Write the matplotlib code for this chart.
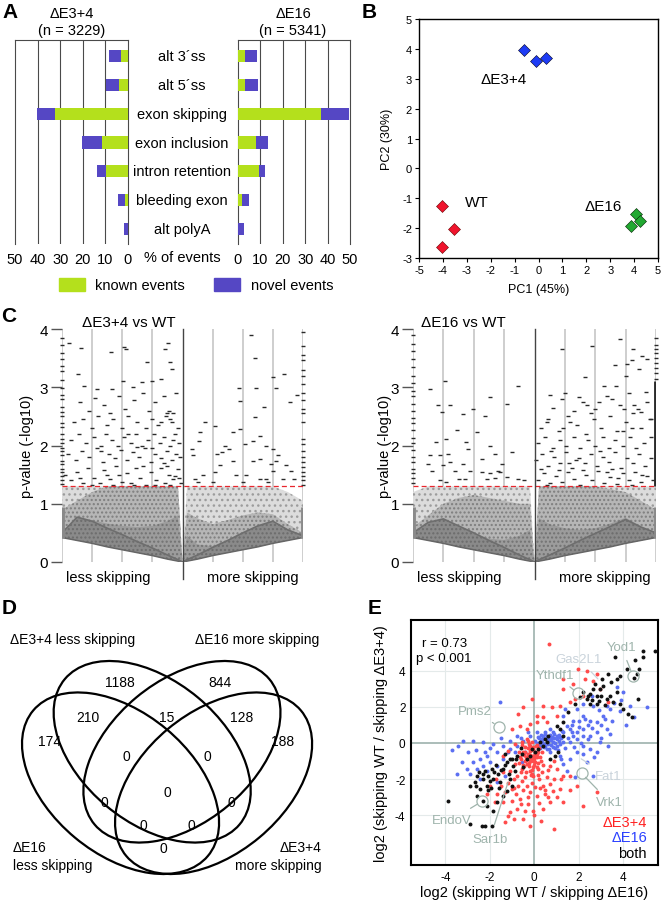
import matplotlib
matplotlib.use('Agg')
import matplotlib.pyplot as plt
import matplotlib.transforms as mtrans
from matplotlib.patches import Ellipse, Patch
import numpy as np

plt.rcParams['font.family'] = ['Liberation Sans', 'DejaVu Sans']
plt.rcParams['axes.unicode_minus'] = False
plt.rcParams['hatch.linewidth'] = 1.0

W, H = 661, 904
fig = plt.figure(figsize=(W / 100, H / 100), dpi=100)


def axpx(l, t, r, b):
    return fig.add_axes([l / W, 1 - b / H, (r - l) / W, (b - t) / H])


def ftext(x, y, s, **kw):
    kw.setdefault('ha', 'center')
    kw.setdefault('va', 'center')
    return fig.text(x / W, 1 - y / H, s, **kw)

# ---------------- DATA ----------------
# Panel A
categories = ['alt 3´ss', 'alt 5´ss', 'exon skipping', 'exon inclusion',
              'intron retention', 'bleeding exon', 'alt polyA']
e34_known = [3.1, 4.0, 32.2, 11.4, 9.9, 1.5, 0.0]
e34_novel = [5.5, 5.8, 8.2, 8.9, 3.9, 2.9, 1.9]
e16_known = [3.0, 3.0, 37.0, 7.9, 9.3, 1.8, 0.0]
e16_novel = [5.5, 6.1, 12.7, 5.7, 2.8, 3.0, 2.7]
pct_ticks = [0, 10, 20, 30, 40, 50]

# Panel B
wt_pc1 = [-4.05, -3.52, -4.05]
wt_pc2 = [-1.26, -2.04, -2.62]
e34_pc1 = [-0.61, -0.10, 0.30]
e34_pc2 = [3.97, 3.60, 3.71]
e16_pc1 = [4.06, 4.26, 3.87]
e16_pc2 = [-1.54, -1.77, -1.94]

# Panel C  (x: skipping change, y: -log10 p)
p_threshold = 0.05
v34_sig = [(-3.78, 3.76), (-3.36, 3.67), (-3.48, 3.23), (-3.28, 3.02), (-2.36, 3.61), (-1.94, 3.69),
           (-1.87, 3.66), (-1.19, 3.43), (-0.57, 3.65), (-0.47, 3.76), (-0.42, 3.43), (-0.34, 3.31),
           (-0.72, 3.14), (-1.02, 3.11), (-1.96, 3.11), (-2.84, 2.97), (-1.36, 3.09), (-1.63, 3.0),
           (-2.35, 2.97),
           (-3.4, 2.75), (-3.1, 2.6), (-2.9, 2.82), (-2.6, 2.7), (-2.4, 2.55), (-2.1, 2.85), (-1.9, 2.62),
           (-1.6, 2.78), (-1.3, 2.9), (-1.1, 2.6), (-0.9, 2.75), (-0.6, 2.85), (-0.45, 2.6), (-0.3, 2.55),
           (-0.2, 2.9),
           (-3.6, 2.4), (-3.3, 2.45), (-3.0, 2.3), (-2.8, 2.5), (-2.5, 2.35), (-2.3, 2.45), (-2.0, 2.3),
           (-1.8, 2.5), (-1.5, 2.4), (-1.2, 2.3), (-1.0, 2.45), (-0.8, 2.35), (-0.55, 2.5), (-0.35, 2.4),
           (-0.15, 2.3), (-0.5, 2.55), (-0.42, 2.45),
           (-3.7, 2.1), (-3.45, 2.2), (-3.2, 2.05), (-2.95, 2.15), (-2.7, 2.0), (-2.55, 2.2), (-2.35, 2.1),
           (-2.15, 2.0), (-1.95, 2.15), (-1.7, 2.05), (-1.55, 2.2), (-1.35, 2.0), (-1.15, 2.1), (-0.95, 2.2),
           (-0.75, 2.05), (-0.6, 2.15), (-0.4, 2.0), (-0.25, 2.2), (-0.1, 2.05),
           (-3.8, 1.85), (-3.55, 1.75), (-3.35, 1.9), (-3.1, 1.8), (-2.85, 1.95), (-2.65, 1.72), (-2.45, 1.85),
           (-2.25, 1.78), (-2.05, 1.92), (-1.85, 1.75), (-1.65, 1.88), (-1.45, 1.8), (-1.25, 1.95),
           (-1.05, 1.72), (-0.9, 1.85), (-0.7, 1.78), (-0.5, 1.9), (-0.35, 1.75), (-0.2, 1.85), (-0.08, 1.8),
           (-1.5, 1.97), (-2.7, 1.9),
           (-3.9, 1.5), (-3.7, 1.4), (-3.5, 1.55), (-3.3, 1.35), (-3.15, 1.62), (-2.95, 1.45), (-2.75, 1.35),
           (-2.6, 1.58), (-2.4, 1.42), (-2.2, 1.65), (-2.0, 1.38), (-1.85, 1.52), (-1.7, 1.35), (-1.55, 1.62),
           (-1.4, 1.45), (-1.2, 1.33), (-1.05, 1.55), (-0.88, 1.4), (-0.72, 1.62), (-0.58, 1.36), (-0.45, 1.5),
           (-0.3, 1.42), (-0.15, 1.6), (-0.05, 1.35), (-3.0, 1.32), (-2.3, 1.32), (-1.6, 1.32), (-0.9, 1.32),
           (-0.4, 1.32), (-0.25, 1.48), (-0.62, 1.7), (-1.0, 1.95), (-1.8, 2.2), (-2.5, 1.5), (-3.4, 1.45),
           (-0.3, 2.1), (-0.7, 2.4), (-1.3, 1.65), (-2.1, 1.5), (-0.12, 1.45), (-0.5, 1.65),
           (2.28, 3.9), (2.42, 3.51), (1.87, 2.98), (2.45, 2.98), (3.0, 3.17), (3.09, 2.98), (3.38, 3.23),
           (3.8, 2.86), (2.4, 2.49), (2.72, 2.66), (1.9, 2.77), (3.58, 2.74), (0.76, 2.4), (1.07, 2.34),
           (0.57, 2.23), (1.92, 2.29), (1.67, 2.23), (1.4, 2.0), (0.55, 2.07), (0.3, 1.94), (0.35, 1.83),
           (1.15, 1.86), (1.32, 1.89), (1.56, 1.94), (2.06, 2.03), (2.34, 2.07), (2.56, 2.17), (2.78, 2.0),
           (3.0, 1.94), (3.17, 1.83), (3.44, 1.66), (3.6, 1.57), (3.0, 1.57), (2.78, 1.43), (2.56, 1.43),
           (2.12, 1.49), (1.79, 1.49), (1.07, 1.54), (0.68, 1.49), (0.41, 1.43), (1.23, 1.66), (1.67, 1.74),
           (2.34, 1.74), (2.56, 1.77), (3.1, 1.74), (2.94, 1.69), (0.52, 1.37), (1.01, 1.37), (3.33, 1.43),
           (3.71, 1.43), (2.0, 1.37), (2.83, 1.37)]
v16_sig = [(-3.45, 2.97), (-2.95, 3.11), (-3.17, 2.69), (-2.77, 2.7), (-3.03, 2.57), (-2.35, 2.54),
           (-2.04, 2.63), (-1.46, 2.83), (-1.63, 2.51), (-0.53, 3.03), (-0.91, 2.71), (-3.23, 2.06),
           (-2.9, 2.11), (-2.56, 2.26), (-3.45, 1.83), (-3.12, 1.83), (-2.84, 1.86), (-2.78, 1.71),
           (-3.0, 1.66), (-3.5, 1.69), (-3.39, 1.57), (-2.62, 1.57), (-2.24, 2.06), (-2.18, 1.94),
           (-1.9, 2.23), (-1.74, 1.77), (-1.46, 2.0), (-1.3, 1.86), (-1.19, 1.57), (-1.13, 1.54),
           (-1.08, 1.69), (-1.74, 1.54), (-1.57, 1.43), (-0.91, 1.46), (-0.75, 1.89), (-0.53, 1.43),
           (-0.36, 1.4), (-2.5, 1.43), (-2.28, 1.43), (-2.9, 1.37), (-2.13, 1.57), (-2.35, 1.69),
           (-3.1, 1.4), (-1.45, 1.52), (-1.3, 1.45),
           (0.9, 3.66), (1.9, 3.71), (2.83, 3.82), (3.25, 3.66), (3.55, 3.54), (3.22, 3.46), (3.03, 3.4),
           (2.64, 3.39), (3.43, 3.31), (3.71, 3.49), (1.67, 3.17), (2.3, 3.03), (2.67, 3.03), (3.0, 3.2),
           (0.9, 2.8), (1.45, 2.83), (1.73, 2.69), (2.12, 2.74), (2.56, 2.8), (2.95, 2.63), (3.27, 2.69),
           (3.5, 2.57), (3.66, 2.91), (3.82, 2.46), (0.52, 2.86), (1.18, 2.4), (0.41, 2.4),
           (0.6, 2.65), (1.0, 2.9), (1.3, 2.6), (1.6, 2.75), (2.0, 2.62), (2.4, 2.85), (2.8, 2.7), (3.1, 2.9),
           (3.4, 2.62), (3.7, 2.75),
           (0.2, 2.3), (0.45, 2.45), (0.8, 2.25), (1.1, 2.5), (1.4, 2.35), (1.7, 2.2), (1.95, 2.45), (2.2, 2.3),
           (2.5, 2.5), (2.7, 2.25), (3.0, 2.4), (3.25, 2.55), (3.5, 2.3), (3.8, 2.45), (2.9, 2.25),
           (0.1, 2.05), (0.35, 2.15), (0.6, 1.95), (0.85, 2.1), (1.05, 2.0), (1.3, 2.15), (1.5, 1.95),
           (1.75, 2.1), (2.0, 2.0), (2.25, 2.15), (2.45, 1.95), (2.65, 2.1), (2.9, 2.0), (3.15, 2.15),
           (3.35, 1.95), (3.6, 2.05), (3.85, 2.15),
           (0.05, 1.75), (0.25, 1.85), (0.45, 1.65), (0.65, 1.8), (0.85, 1.7), (1.05, 1.88), (1.25, 1.62),
           (1.45, 1.78), (1.65, 1.7), (1.85, 1.85), (2.05, 1.65), (2.25, 1.8), (2.45, 1.72), (2.65, 1.88),
           (2.85, 1.62), (3.05, 1.78), (3.25, 1.7), (3.45, 1.85), (3.65, 1.65), (3.85, 1.78), (1.15, 1.7),
           (2.55, 1.6),
           (0.1, 1.4), (0.3, 1.52), (0.5, 1.35), (0.7, 1.48), (0.9, 1.38), (1.1, 1.55), (1.3, 1.42), (1.5, 1.33),
           (1.7, 1.5), (1.9, 1.4), (2.1, 1.57), (2.3, 1.36), (2.5, 1.46), (2.7, 1.34), (2.9, 1.52), (3.1, 1.4),
           (3.3, 1.55), (3.5, 1.37), (3.7, 1.48), (3.9, 1.4), (0.8, 1.58), (1.6, 1.58), (2.4, 1.55),
           (3.2, 1.32), (0.4, 1.32), (0.2, 1.6), (0.55, 1.9), (1.35, 1.75), (2.15, 1.9), (2.75, 1.45),
           (3.55, 1.5), (0.95, 2.3), (1.85, 2.55), (3.2, 2.3)]
# stacked extreme values at the plot edges (x = -4 / +4)
v34_edge_lo = [1.34, 1.41, 1.47, 1.55, 1.6, 1.69, 1.74, 1.83, 1.9, 1.96, 2.05, 2.12, 2.19, 2.31, 2.38,
               2.5, 2.57, 2.66, 2.79, 2.86, 2.98, 3.12, 3.28, 3.36, 3.49, 3.58, 3.72, 3.85]
v34_edge_hi = [1.33, 1.4, 1.48, 1.55, 1.63, 1.71, 1.8, 1.9, 2.02, 2.11, 2.4, 2.55, 2.62, 2.78, 2.9,
               3.06, 3.2, 3.3, 3.46, 3.55, 3.7, 3.95]
v16_edge_lo = [1.35, 1.44, 1.52, 1.6, 1.72, 1.81, 1.93, 2.04, 2.13, 2.26, 2.38, 2.47, 2.6, 2.72, 2.85,
               2.93, 3.08, 3.2, 3.35, 3.48, 3.62, 3.75, 3.9]
v16_edge_hi = [3.15, 3.24, 3.33, 3.42, 3.5, 3.58, 3.66, 3.72, 3.85]
edge_grey_band = {'v34_lo': (0.42, 0.95), 'v34_hi': (0.42, 0.95), 'v16_lo': (0.42, 0.95), 'v16_hi': (0.42, 0.95)}
edge_dark_band = {'v16_hi': (1.3, 3.1)}

# density envelopes of the non-significant (grey) cloud
cloud_x_neg = [-4, -3.5, -3, -2.5, -2, -1.5, -1, -0.5, -0.15, 0]
cloud_x_pos = [0, 0.15, 0.5, 1, 1.5, 2, 2.5, 3, 3.5, 4]
cloud_low_neg = [0.42, 0.37, 0.32, 0.26, 0.21, 0.16, 0.11, 0.05, 0.015, 0]
cloud_low_pos = [0, 0.015, 0.05, 0.11, 0.16, 0.21, 0.26, 0.32, 0.37, 0.42]
v34_neg = dict(streak=[0.5, 0.77, 0.7, 0.58, 0.47, 0.35, 0.24, 0.12, 0.04, 0],
               dense=[0.5, 0.77, 0.72, 0.66, 0.62, 0.6, 0.62, 0.7, 0.8, 0],
               mid=[0.9, 1.05, 1.2, 1.3, 1.3, 1.3, 1.3, 1.3, 1.3, 0],
               light=[1.3, 1.3, 1.3, 1.3, 1.3, 1.3, 1.3, 1.3, 1.3, 0])
v34_pos = dict(streak=[0, 0.04, 0.12, 0.25, 0.37, 0.5, 0.62, 0.7, 0.55, 0.45],
               dense=[0, 0.45, 0.3, 0.27, 0.37, 0.5, 0.62, 0.7, 0.55, 0.45],
               mid=[0, 0.85, 0.75, 0.65, 0.72, 0.8, 0.85, 0.82, 0.65, 0.5],
               light=[0, 1.3, 1.3, 1.3, 1.3, 1.3, 1.3, 1.3, 1.2, 1.05])
v16_neg = dict(streak=[0.5, 0.68, 0.74, 0.62, 0.5, 0.37, 0.25, 0.12, 0.04, 0],
               dense=[0.5, 0.68, 0.74, 0.62, 0.5, 0.4, 0.38, 0.45, 0.55, 0],
               mid=[0.6, 0.8, 1.0, 1.1, 1.15, 1.1, 1.05, 1.0, 1.0, 0],
               light=[1.2, 1.3, 1.3, 1.3, 1.3, 1.3, 1.3, 1.3, 1.3, 0])
v16_pos = dict(streak=[0, 0.04, 0.12, 0.24, 0.37, 0.49, 0.61, 0.73, 0.6, 0.5],
               dense=[0, 0.75, 0.65, 0.58, 0.55, 0.58, 0.66, 0.76, 0.62, 0.5],
               mid=[0, 1.3, 1.3, 1.3, 1.3, 1.3, 1.25, 1.2, 1.05, 0.9],
               light=[0, 1.3, 1.3, 1.3, 1.3, 1.3, 1.3, 1.3, 1.3, 1.3])

# Panel D (Venn counts)
venn_sets = ['ΔE3+4 less skipping', 'ΔE16 more skipping', 'ΔE16\nless skipping', 'ΔE3+4\nmore skipping']
venn_counts = {'A': 1188, 'B': 844, 'C': 174, 'D': 188, 'AC': 210, 'AB': 15, 'BD': 128,
               'AD': 0, 'BC': 0, 'ABCD': 0, 'ACD': 0, 'BCD': 0, 'ABC': 0, 'ABD': 0, 'CD': 0}

# Panel E
e_both = [(5.42, 5.07), (4.9, 5.1), (3.63, 4.74), (4.52, 4.59), (4.9, 4.74), (4.6, 3.82), (4.15, 4.09),
          (3.85, 3.72), (3.7, 3.54), (3.43, 3.35), (3.1, 3.17), (2.95, 2.99), (2.8, 2.62), (2.65, 2.99),
          (2.5, 2.71), (2.35, 2.43), (2.2, 2.8), (2.5, 2.16), (2.8, 2.16), (3.25, 2.43), (3.55, 2.25),
          (3.85, 2.16), (4.0, 1.88), (4.37, 1.42), (4.22, 1.6), (4.67, 2.43), (3.7, 2.8), (3.03, 3.54),
          (3.33, 3.82), (2.73, 3.26), (2.05, 2.53), (1.83, 2.16), (1.53, 1.7), (1.3, 1.14), (1.15, 0.77),
          (1.0, 0.96), (1.3, 0.41), (0.63, 0.41), (0.55, 0.04), (0.4, -0.15), (0.18, -0.33), (0.7, -0.88),
          (0.93, -0.7), (1.08, -0.52), (-0.19, -0.7), (-0.34, -0.88), (-0.57, -0.61), (-0.79, -0.7),
          (-1.02, -0.88), (-0.94, -1.25), (-1.24, -1.07), (-1.39, -1.44), (-1.62, -1.71), (-1.84, -1.99),
          (-2.07, -1.81), (-2.29, -1.99), (-2.14, -2.36), (-2.44, -2.54), (-2.59, -2.91), (-2.29, -3.19),
          (-2.14, -3.47), (-1.84, -3.74), (-1.69, -3.28), (-1.24, -2.64), (-1.39, -2.91), (-1.02, -2.36),
          (-1.09, -1.99), (-1.54, -2.18), (-1.92, -1.44), (-2.22, -1.53), (-2.59, -1.81), (-2.89, -2.36),
          (-2.67, -2.18), (-3.87, -3.23), (-2.89, -4.48), (-2.37, -4.61), (-1.92, -4.61), (-2.22, -4.61),
          (-0.87, -1.53), (-0.49, -1.35), (0.03, -0.52), (-0.12, -0.33), (0.25, 0.04), (0.48, 0.22),
          (-1.7, -1.2), (-1.3, -0.6), (-0.6, -0.3), (-1.95, -2.5), (-2.5, -1.6), (-1.15, -1.7),
          (-1.5, -1.5), (-1.8, -1.6), (-2.0, -2.1), (-2.3, -1.7), (-2.6, -2.4), (-2.1, -2.6), (-1.6, -2.5),
          (-1.3, -1.2), (-1.1, -0.9), (-0.8, -0.9), (2.6, 2.4), (2.9, 2.3), (3.2, 2.1), (3.0, 2.6),
          (2.4, 2.6), (3.4, 2.6), (4.5, 3.6), (4.7, 4.1)]
e_e16 = [(-1.54, 2.25), (1.3, 1.51), (1.9, 1.88), (2.2, 1.51), (2.5, 1.24), (2.8, 1.14), (3.1, 1.51),
         (3.4, 1.88), (3.85, 1.79), (4.3, 2.06), (5.05, 1.97), (4.48, 1.42), (4.0, 2.8), (3.7, 3.08),
         (3.25, 2.06), (2.65, 2.06), (2.2, 2.16), (1.75, 1.24), (1.6, 0.77), (1.9, 0.59), (2.2, 0.77),
         (2.5, 0.41), (2.8, 0.59), (3.25, 0.77), (2.95, 0.04), (2.5, -0.33), (2.2, -0.15), (1.9, -0.52),
         (1.6, -0.88), (1.3, -1.16), (1.45, -1.53), (2.35, -1.07), (2.65, -1.81), (1.83, -1.9),
         (1.15, 0.31), (0.85, 0.59), (0.7, 0.31), (1.0, -0.15), (1.3, 0.04), (1.6, 0.04), (1.9, 0.22),
         (0.55, -0.33), (0.25, -0.15), (0.4, 0.41), (0.1, 0.59), (-0.19, 0.41), (-0.49, 0.13),
         (-0.79, -0.15), (-1.09, -0.33), (-1.39, -0.15), (-1.69, -0.52), (-2.14, -0.7), (-2.44, -0.88),
         (-2.74, -1.07), (-3.04, -1.44), (-3.42, -0.15), (-3.27, -1.07), (-3.49, -1.71), (-3.19, 0.13),
         (-2.74, 0.13), (-2.29, 0.04), (-1.84, -0.06), (-1.09, 0.13), (-0.79, 0.41), (-1.39, -0.88),
         (-1.69, -1.25), (-1.99, -1.07), (-2.29, -1.25), (-2.59, -1.44), (-2.89, -1.71), (-2.44, -1.99),
         (-2.14, -1.53), (-1.69, -2.18), (-1.32, -1.81), (-0.87, -0.52), (-0.57, -1.07), (0.7, 0.77),
         (1.45, 0.96), (1.75, 0.41), (2.2, 0.41), (1.15, -0.7), (0.7, -0.52), (2.8, -0.52), (3.33, -0.15),
         (-0.19, -0.15), (0.03, 0.13), (0.1, -0.06), (0.33, 0.04), (0.48, -0.15), (0.63, 0.13),
         (0.85, 0.04), (0.18, 0.31), (0.48, 0.59), (1.0, 0.41), (1.23, 0.68), (0.35, 0.2), (0.6, -0.05),
         (0.75, 0.15), (0.9, 0.25), (0.45, -0.05), (0.28, 0.1), (0.55, 0.35), (0.95, -0.3), (1.1, 0.1),
         (2.0, 1.2), (2.4, 1.0), (2.9, 1.8), (3.5, 1.2), (4.1, 1.0), (3.0, 0.3), (1.4, 1.9), (2.6, 2.6),
         (3.9, 2.4), (-0.4, -0.5), (-0.6, 0.3), (-1.2, -0.5), (-2.0, -0.3), (-3.0, -0.5),
         (0.3, 0.45), (0.5, 0.5), (0.7, 0.45), (0.9, 0.5), (1.1, 0.45), (0.2, 0.25), (0.4, 0.3), (0.6, 0.2),
         (0.8, 0.35), (1.0, 0.2), (1.2, 0.3), (0.15, 0.0), (0.35, -0.1), (0.55, 0.05), (0.75, -0.1),
         (0.95, 0.0), (1.15, -0.05), (0.25, -0.3), (0.45, -0.25), (0.65, -0.35), (0.85, -0.2), (1.05, -0.4),
         (1.3, 0.6), (1.5, 0.3), (1.7, 0.6), (1.4, -0.3), (1.8, -0.2), (2.1, 0.0), (2.4, 0.2), (2.0, 0.9),
         (2.3, 1.3), (1.7, 1.0), (2.6, 0.8), (3.0, 1.0), (3.4, 0.5), (2.7, -0.8), (2.2, -0.6), (1.2, -0.9),
         (3.6, 2.2), (3.2, 1.3), (-2.6, -0.4), (-1.5, 0.3), (-2.2, -0.5), (-3.7, -0.4), (-0.3, 0.6)]
e_e34 = [(0.66, 5.47), (1.98, 4.09), (2.35, 4.0), (1.3, 3.54), (1.3, 2.99), (1.75, 3.26), (2.28, 3.54),
         (2.65, 3.45), (2.95, 2.99), (2.8, 3.82), (1.83, 2.43), (2.2, 2.62), (1.15, 2.06), (0.78, 1.97),
         (0.4, 2.06), (-0.12, 2.43), (-0.49, 1.97), (-0.72, 1.6), (0.1, 1.51), (-0.19, 1.05), (-0.34, 0.77),
         (-0.64, 0.96), (-1.02, 0.77), (0.1, 1.14), (0.55, 1.14), (0.4, 1.42), (1.0, 1.51), (1.6, 2.25),
         (3.33, 2.25),
         (-0.49, -0.52), (-0.27, -0.79), (-0.04, -0.98), (-0.34, -1.16), (-0.57, -1.44), (-0.19, -1.53),
         (0.1, -1.35), (0.25, -0.79), (0.03, -0.61), (-0.19, -0.42), (-0.64, -0.79), (-0.87, -1.16),
         (-1.09, -1.53), (-0.79, -1.81), (-0.42, -1.9), (-0.04, -1.81), (0.33, -1.62), (0.55, -1.9),
         (0.7, -2.27), (0.4, -2.36), (0.03, -2.45), (-0.34, -2.36), (-0.72, -2.36), (-1.02, -2.54),
         (-1.32, -2.73), (-1.69, -2.82), (-1.39, -3.28), (-1.02, -3.19), (-0.64, -3.1), (-0.27, -3.0),
         (0.1, -2.91), (0.48, -2.82), (0.85, -2.64), (1.15, -2.54), (1.3, -3.28), (0.7, -3.28),
         (0.4, -3.65), (-0.04, -3.74), (-0.42, -3.74), (-0.79, -3.65), (-1.09, -3.83), (-1.32, -4.39),
         (-0.49, -4.2), (0.88, -4.76), (2.2, -3.47), (2.8, -2.73), (1.9, -2.36), (1.6, -1.81), (1.3, -1.81),
         (1.0, -1.44), (0.7, -1.25), (-1.99, -2.36), (-2.14, -2.82), (-1.77, -3.28), (-1.17, -4.02),
         (-0.04, -0.33), (-0.19, -0.15), (-0.42, -0.24), (0.18, -0.52), (-0.12, 0.04), (-0.34, 0.22),
         (-0.57, 0.04), (-0.87, -0.06), (-1.17, -0.42), (-1.39, -0.7),
         (-0.3, -0.6), (-0.1, -0.7), (0.1, -0.8), (-0.2, -1.0), (0.0, -1.2), (-0.4, -1.0), (-0.15, -0.4),
         (0.05, -0.5), (-0.5, -1.2), (-0.25, -1.3), (0.15, -1.1), (-0.1, -1.5), (0.2, -0.3), (-0.35, -0.8),
         (0.0, -0.9), (-0.6, -0.9), (-0.05, -0.2), (-0.25, -0.05), (0.08, -0.15), (-0.45, -0.65),
         (-0.7, -1.1), (0.3, -1.0), (-0.15, -1.75), (0.2, -2.0), (-0.55, -2.1), (-0.9, -2.0), (0.5, -2.6),
         (-0.1, -2.2), (-1.2, -2.2), (0.6, -1.5), (0.9, -2.0), (-0.8, -2.8), (-0.3, -3.4), (0.2, -3.3),
         (-0.3, -0.3), (-0.1, -0.35), (0.1, -0.6), (-0.4, -0.5), (-0.2, -0.65), (0.0, -0.75), (-0.35, -0.95),
         (-0.15, -0.85), (0.05, -1.05), (-0.45, -1.3), (-0.25, -1.1), (-0.05, -1.35), (0.15, -1.45),
         (-0.6, -1.6), (-0.35, -1.6), (-0.1, -1.7), (0.15, -1.75), (0.4, -1.2), (0.35, -0.5), (-0.7, -0.5),
         (-0.55, -0.1), (-0.3, 0.1), (0.1, -0.1), (-0.5, -2.6), (-0.2, -2.7), (0.25, -2.5), (0.6, -3.0),
         (-0.9, -2.5), (-1.5, -2.4), (-0.6, -3.4), (0.0, -4.0), (-0.9, -4.2), (1.0, -3.0), (0.3, -4.3),
         (-0.2, -4.6), (1.6, -2.6), (1.2, -2.0), (0.9, -1.0), (-1.7, -2.0), (-1.4, -1.6)]
e_genes = ['Pms2', 'Ythdf1', 'Gas2L1', 'Yod1', 'Fat1', 'Vrk1', 'EndoV', 'Sar1b']
e_gene_x = [-1.6, 1.96, 2.86, 4.43, 2.11, 2.13, -2.35, -1.18]
e_gene_y = [0.9, 2.75, 3.54, 3.72, -0.88, -1.68, -3.23, -2.18]
e_gene_circled = [True, True, False, True, False, True, True, False]
r_value, p_text = 0.73, 'p < 0.001'

# ---------------- PANEL A ----------------
known_c = '#b4e01c'
novel_c = '#5547c4'
rows = np.arange(len(categories))
axA = []
for (l, r, known, novel, xl) in [(15, 128, e34_known, e34_novel, (50, 0)),
                                 (238, 350, e16_known, e16_novel, (0, 50))]:
    ax = axpx(l, 41, r, 245)
    ax.barh(rows, known, height=0.42, color=known_c, zorder=3)
    ax.barh(rows, novel, left=known, height=0.42, color=novel_c, zorder=3)
    ax.set_xlim(*xl)
    ax.set_ylim(6.52, -0.555)
    for g in pct_ticks[1:-1]:
        ax.axvline(g, color='#4a4a4a', lw=0.8, zorder=1)
    ax.spines['bottom'].set_visible(False)
    for s in ['top', 'left', 'right']:
        ax.spines[s].set_color('#4a4a4a')
        ax.spines[s].set_linewidth(0.8)
    ax.set_yticks([])
    ax.set_xticks(pct_ticks)
    ax.tick_params(axis='x', length=0, pad=6, labelsize=10.5)
    axA.append(ax)
tr = mtrans.blended_transform_factory(fig.transFigure, axA[1].transData)
for i, c in enumerate(categories):
    axA[1].text(182 / W, i, c, transform=tr, ha='center', va='center', fontsize=10.5)
ftext(182, 258, '% of events', fontsize=10.5)
ftext(72, 14, 'ΔE3+4', fontsize=10.5)
ftext(72, 31, '(n = 3229)', fontsize=10.5)
ftext(293, 14, 'ΔE16', fontsize=10.5)
ftext(293, 31, '(n = 5341)', fontsize=10.5)
fig.legend(handles=[Patch(color=known_c), Patch(color=novel_c)],
           labels=['known events', 'novel events'], loc='center',
           bbox_to_anchor=(196 / W, 1 - 286 / H), ncol=2, frameon=False, fontsize=10.5,
           handlelength=1.8, handleheight=1.0, handletextpad=0.7, columnspacing=2.0)
ftext(10, 13, 'A', fontsize=15, fontweight='bold')

# ---------------- PANEL B ----------------
axB = axpx(419, 20, 658, 259)
axB.plot(wt_pc1, wt_pc2, 'D', color='#f0142d', mec='#600', mew=0.4, ms=6.5, ls='none')
axB.plot(e34_pc1, e34_pc2, 'D', color='#1e3cf5', mec='#002', mew=0.4, ms=6.5, ls='none')
axB.plot(e16_pc1, e16_pc2, 'D', color='#22a832', mec='#020', mew=0.4, ms=6.5, ls='none')
axB.text(-1.48, 3.0, 'ΔE3+4', ha='center', va='center', fontsize=11)
axB.text(-2.6, -1.13, 'WT', ha='center', va='center', fontsize=11)
axB.text(2.72, -1.27, 'ΔE16', ha='center', va='center', fontsize=11)
axB.set_xlim(-5, 5)
axB.set_ylim(-3, 5)
axB.set_xticks(range(-5, 6))
axB.set_yticks(range(-3, 6))
axB.tick_params(direction='out', length=3, labelsize=8, pad=2)
for s in axB.spines.values():
    s.set_linewidth(1.0)
axB.text(0.5, -0.13, 'PC1 (45%)', transform=axB.transAxes, ha='center', va='center', fontsize=9)
axB.text(-0.135, 0.5, 'PC2 (30%)', transform=axB.transAxes, ha='center', va='center',
         fontsize=9, rotation=90)
ftext(369, 13, 'B', fontsize=15, fontweight='bold')

# ---------------- PANEL C ----------------
def volcano(l, r, sig, neg, pos, edge_lo, edge_hi, key_lo, key_hi, title, ylab_x, title_x):
    ax = axpx(l, 330, r, 563)
    ax.set_xlim(-4, 4)
    ax.set_ylim(0, 4)
    for g in [-4, -3, -2, -1, 1, 2, 3, 4]:
        ax.axvline(g, color='#cacaca', lw=1.3, zorder=0)
    ax.axvline(0, ymin=-0.075, ymax=1, color='#444', lw=1.0, clip_on=False, zorder=5)
    for xs, low, env in [(cloud_x_neg, cloud_low_neg, neg), (cloud_x_pos, cloud_low_pos, pos)]:
        ax.fill_between(xs, low, env['light'], facecolor='#dcdcdc', edgecolor='#9c9c9c',
                        hatch='...', lw=0, zorder=1)
        ax.fill_between(xs, low, env['mid'], facecolor='#b6b6b6', edgecolor='#7e7e7e',
                        hatch='....', lw=0, zorder=1)
        ax.fill_between(xs, low, env['dense'], facecolor='#9c9c9c', edgecolor='#727272',
                        hatch='....', lw=0, zorder=1)
        ax.fill_between(xs, low, env['streak'], facecolor='#8a8a8a', edgecolor='#6c6c6c',
                        hatch='....', lw=0, zorder=1)
        ax.plot(xs, low, color='#666', lw=1.1, zorder=2)
        ax.plot(xs, env['streak'], color='#6e6e6e', lw=1.2, zorder=2)
    sx = [p[0] for p in sig]
    sy = [p[1] for p in sig]
    ax.plot(sx, sy, '_', color='#2a2a2a', ms=3.0, mew=1.0, ls='none', zorder=3)
    for xe, ys, key in [(-4, edge_lo, key_lo), (4, edge_hi, key_hi)]:
        ax.plot([xe] * len(ys), ys, '_', color='#2a2a2a', ms=3.5, mew=1.0, ls='none', zorder=3, clip_on=False)
        y0, y1 = edge_grey_band[key]
        ax.vlines(xe, y0, y1, color='#8a8a8a', lw=3.5, zorder=3)
        if key in edge_dark_band:
            y0, y1 = edge_dark_band[key]
            ax.vlines(xe, y0, y1, color='#2a2a2a', lw=3.5, zorder=3)
    ax.axhline(-np.log10(p_threshold), color='#e8262d', ls=(0, (4, 2.5)), lw=0.9, zorder=4)
    for s in ax.spines.values():
        s.set_visible(False)
    ax.set_xticks([])
    ax.set_yticks([0, 1, 2, 3, 4])
    ax.tick_params(axis='y', length=8, color='#555', width=1, labelsize=11, pad=2)
    ftext(ylab_x, 446, 'p-value (-log10)', rotation=90, fontsize=10.5)
    ftext(title_x, 323, title, fontsize=11)
    cx = (l + r) / 2
    ftext(l + (cx - l) * 0.38, 578, 'less skipping', fontsize=10.5)
    ftext(r - (r - cx) * 0.42, 578, 'more skipping', fontsize=10.5)
    return ax

volcano(62, 303, v34_sig, v34_neg, v34_pos, v34_edge_lo, v34_edge_hi, 'v34_lo', 'v34_hi',
        'ΔE3+4 vs WT', 27, 129)
volcano(413, 656, v16_sig, v16_neg, v16_pos, v16_edge_lo, v16_edge_hi, 'v16_lo', 'v16_hi',
        'ΔE16 vs WT', 385, 463)
ftext(9, 316, 'C', fontsize=15, fontweight='bold')

# ---------------- PANEL D ----------------
axD = axpx(22, 662, 312, 875)
axD.set_xlim(0.0386, 0.955)
axD.set_ylim(0.1115, 0.7885)
axD.axis('off')
for (cx, cy, ang) in [(0.350, 0.400, 140.0), (0.450, 0.500, 140.0), (0.544, 0.500, 40.0), (0.644, 0.400, 40.0)]:
    axD.add_patch(Ellipse((cx, cy), 0.72, 0.45, angle=ang, fill=False, ec='black', lw=1.6, clip_on=False))
region_px = {'A': (120, 683), 'B': (220, 683), 'AC': (88, 718), 'AB': (167, 718), 'BD': (242, 718),
             'C': (50, 742), 'D': (283, 742), 'BC': (126, 757), 'AD': (207, 757), 'ABCD': (167, 793),
             'ABC': (104, 803), 'ABD': (231, 803), 'ACD': (143, 826), 'BCD': (191, 826), 'CD': (163, 849)}
for k, (x, y) in region_px.items():
    ftext(x, y, str(venn_counts[k]), fontsize=10)
ftext(73, 640, venn_sets[0], fontsize=10)
ftext(257, 640, venn_sets[1], fontsize=10)
ftext(13, 857, venn_sets[2], fontsize=10, ha='left', linespacing=1.35)
ftext(322, 857, venn_sets[3], fontsize=10, ha='right', linespacing=1.35, multialignment='right')
ftext(9, 608, 'D', fontsize=15, fontweight='bold')

# ---------------- PANEL E ----------------
axE = axpx(411, 621, 658, 866)
axE.set_xlim(-5.54, 5.56)
axE.set_ylim(-6.75, 6.8)
for g in [-4, -2, 2, 4]:
    axE.axvline(g, color='#e4eaea', lw=0.8, zorder=0)
    axE.axhline(g, color='#e4eaea', lw=0.8, zorder=0)
axE.axvline(0, color='#9db2ad', lw=1.2, zorder=1)
axE.axhline(0, color='#9db2ad', lw=1.2, zorder=1)
for pts, col in [(e_e16, '#5b6ff2'), (e_e34, '#ff4b4b'), (e_both, '#111111')]:
    axE.scatter([p[0] for p in pts], [p[1] for p in pts], s=8, color=col, lw=0, zorder=3)
lab_off = {'Pms2': (-2.68, 1.79), 'Ythdf1': (0.91, 3.78), 'Gas2L1': (2.0, 4.65), 'Yod1': (3.91, 5.33),
           'Fat1': (3.31, -1.81), 'Vrk1': (3.39, -3.28), 'EndoV': (-3.73, -4.26), 'Sar1b': (-2.0, -5.31)}
lab_col = {'Gas2L1': '#c9d3db', 'Fat1': '#c9d3db'}
for g, gx, gy, circ in zip(e_genes, e_gene_x, e_gene_y, e_gene_circled):
    c = lab_col.get(g, '#9fb4ac')
    axE.annotate(g, xy=(gx, gy), xytext=lab_off[g], ha='center', va='center', fontsize=9.5, color=c,
                 arrowprops=dict(arrowstyle='-', color=c, lw=0.9, shrinkA=4, shrinkB=4 if circ else 0),
                 zorder=4)
    if circ:
        axE.plot(gx, gy, 'o', mfc='none', mec='#9fb4ac', ms=8, mew=0.9, zorder=4)
axE.set_xticks([-4, -2, 0, 2, 4])
axE.set_yticks([-4, -2, 0, 2, 4])
axE.tick_params(length=0, labelsize=8.5, pad=4)
for s in axE.spines.values():
    s.set_linewidth(1.5)
axE.text(-4.05, 5.55, f'r = {r_value}', ha='center', va='center', fontsize=9.5)
axE.text(-4.05, 4.7, p_text, ha='center', va='center', fontsize=9.5)
axE.text(0.955, 0.175, 'ΔE3+4', transform=axE.transAxes, ha='right', va='center', fontsize=10.5, color='#ff2222')
axE.text(0.955, 0.115, 'ΔE16', transform=axE.transAxes, ha='right', va='center', fontsize=10.5, color='#2a40ff')
axE.text(0.955, 0.05, 'both', transform=axE.transAxes, ha='right', va='center', fontsize=10.5, color='black')
ftext(534, 893, 'log2 (skipping WT / skipping ΔE16)', fontsize=10.5)
ftext(381, 744, 'log2 (skipping WT / skipping ΔE3+4)', fontsize=10.5, rotation=90)
ftext(375, 609, 'E', fontsize=15, fontweight='bold')

fig.savefig('out.png', dpi=100)
